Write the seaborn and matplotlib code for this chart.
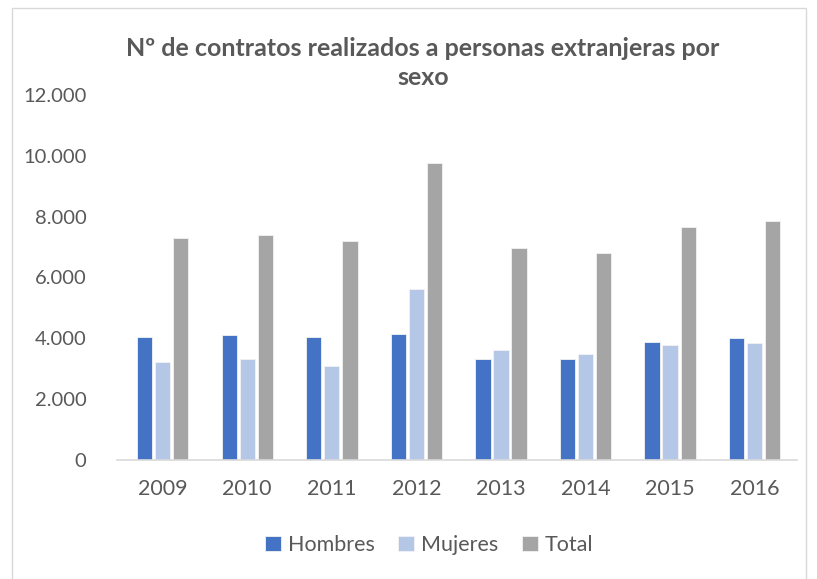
import matplotlib
matplotlib.use("Agg")
import matplotlib.pyplot as plt
import seaborn as sns
import pandas as pd
from matplotlib.ticker import FuncFormatter
from matplotlib.patches import Rectangle

years = ["2009", "2010", "2011", "2012", "2013", "2014", "2015", "2016"]
hombres = [4050, 4100, 4045, 4150, 3310, 3310, 3890, 4000]
mujeres = [3210, 3310, 3105, 5615, 3630, 3475, 3790, 3840]
total = [7300, 7400, 7190, 9760, 6975, 6820, 7660, 7870]
series = ["Hombres", "Mujeres", "Total"]
colors = ["#4472C4", "#B4C7E7", "#A5A5A5"]
title = "Nº de contratos realizados a personas extranjeras por\nsexo"

rows = []
for i, y in enumerate(years):
    for s, vals in zip(series, [hombres, mujeres, total]):
        rows.append({"Año": y, "Serie": s, "Valor": vals[i]})
df = pd.DataFrame(rows)

sns.set_style("white")
plt.rcParams["font.family"] = ["Lato", "DejaVu Sans"]

fig = plt.figure(figsize=(8.17, 5.79), dpi=100)
ax = fig.add_axes([117/817, 1-460/579, (797-117)/817, (460-95)/579])

sns.barplot(data=df, x="Año", y="Valor", hue="Serie", hue_order=series,
            palette=colors, saturation=1, width=0.64, gap=0.15, ax=ax,
            edgecolor="#F2F2F2", linewidth=0.6, legend=True)

ax.set_ylim(0, 12000)
ax.set_xlim(-0.54, 7.5)
ax.set_yticks(range(0, 12001, 2000))
ax.yaxis.set_major_formatter(FuncFormatter(lambda v, p: f"{int(v):,}".replace(",", ".")))
ax.set_xlabel("")
ax.set_ylabel("")
for sp in ["top", "right", "left"]:
    ax.spines[sp].set_visible(False)
ax.spines["bottom"].set_color("#D9D9D9")
ax.spines["bottom"].set_linewidth(1.2)
ax.tick_params(axis="both", length=0, colors="#595959")
ax.tick_params(axis="y", pad=22, labelsize=14.5)
ax.tick_params(axis="x", pad=14, labelsize=15.5)

leg = ax.legend(loc="center", bbox_to_anchor=(429/817, 1-545/579),
                bbox_transform=fig.transFigure, ncol=3, frameon=False,
                fontsize=15.5, handlelength=0.75, handleheight=0.75,
                handletextpad=0.3, columnspacing=1.1)
for t in leg.get_texts():
    t.set_color("#595959")

fig.text(423/817, 1-63/579, title, ha="center", va="center",
         fontsize=18, fontweight="bold", color="#595959", linespacing=1.3)

fig.patches.append(Rectangle((12/817, -0.01), (806-12)/817, 1-8/579+0.01,
                             transform=fig.transFigure, fill=False,
                             edgecolor="#D9D9D9", linewidth=1))

fig.savefig("out.png", dpi=100)
